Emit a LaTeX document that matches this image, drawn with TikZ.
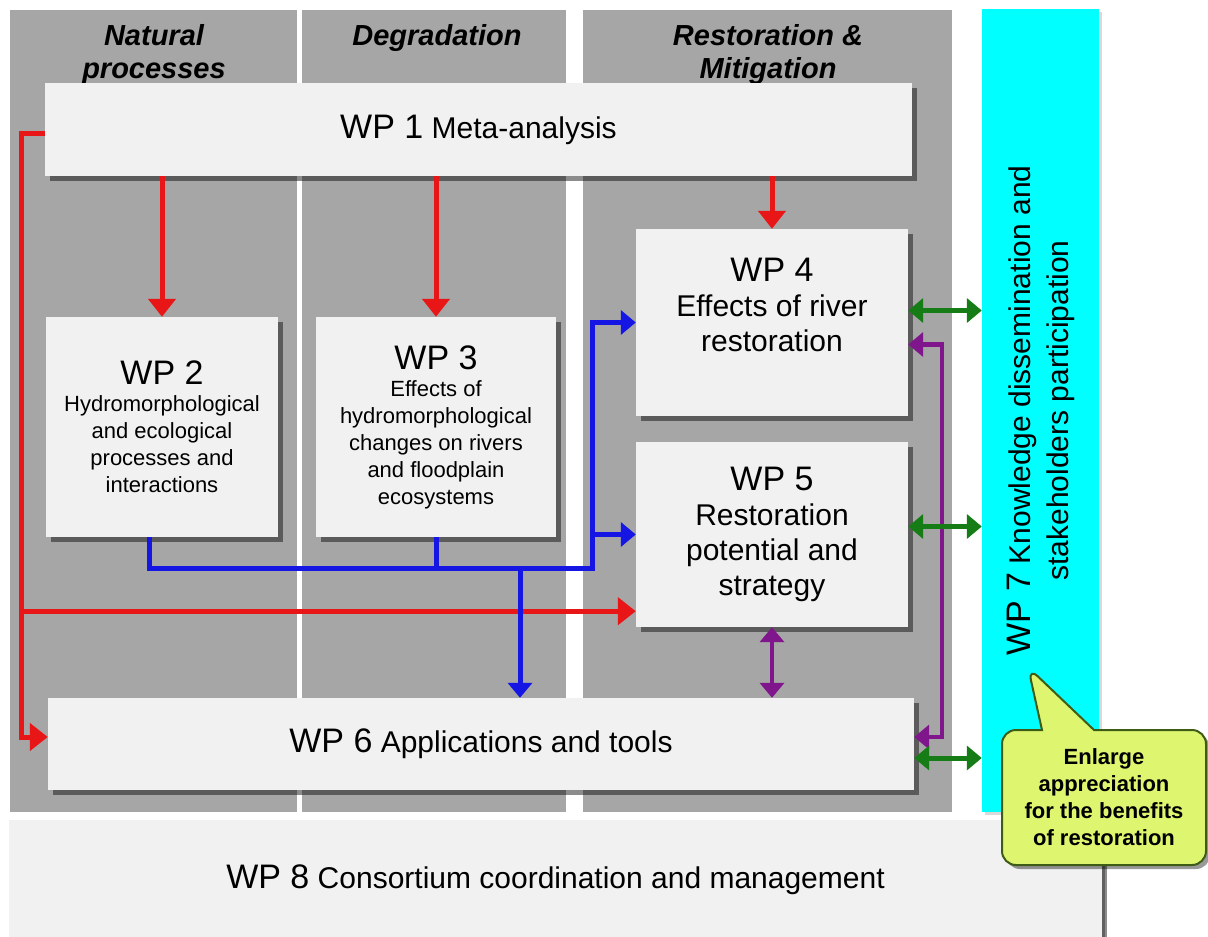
\documentclass[tikz,border=0pt]{standalone}
\usepackage{fontspec}
\setmainfont{Liberation Sans}
\usepackage{tikz}
\usetikzlibrary{arrows.meta,calc,shadows,shapes.callouts}

\definecolor{colgray}{RGB}{166,166,166}
\definecolor{boxfill}{RGB}{241,241,241}
\definecolor{wpred}{RGB}{232,22,22}
\definecolor{wpblue}{RGB}{22,22,228}
\definecolor{wppurple}{RGB}{128,22,140}
\definecolor{wpgreen}{RGB}{22,125,22}
\definecolor{wpcyan}{RGB}{0,255,255}
\definecolor{notefill}{RGB}{222,245,112}
\definecolor{noteborder}{RGB}{62,92,22}

\newcommand{\wptitle}[1]{{\fontsize{34}{38}\selectfont WP #1}}

\begin{document}
\begin{tikzpicture}[x=1pt,y=-1pt,
    wpbox/.style={fill=boxfill,inner sep=0pt,align=center,
      font=\fontsize{30}{35}\selectfont,
      drop shadow={shadow xshift=5pt,shadow yshift=-5pt,fill=black,opacity=.45}},
    smalltext/.style={font=\fontsize{22}{27}\selectfont},
    header/.style={anchor=north,inner sep=0pt,align=center,
      font=\fontsize{29}{33}\selectfont\bfseries\itshape},
    redarr/.style={draw=wpred,line width=5pt,-{Triangle[length=18pt,width=27pt]}},
    bluearr/.style={draw=wpblue,line width=5pt,-{Triangle[length=15pt,width=24pt]}},
    blueline/.style={draw=wpblue,line width=5pt},
    purparr/.style={draw=wppurple,line width=4.5pt,
      {Triangle[length=15pt,width=24pt]}-{Triangle[length=15pt,width=24pt]}},
    greenarr/.style={draw=wpgreen,line width=5pt,
      {Triangle[length=15pt,width=24pt]}-{Triangle[length=15pt,width=24pt]}},
    note/.style={rectangle callout,fill=notefill,draw=noteborder,line width=2pt,
      rounded corners=14pt,callout pointer width=52pt,align=center,inner sep=0pt,
      font=\fontsize{22}{27}\selectfont\bfseries,
      drop shadow={shadow xshift=4pt,shadow yshift=-4pt,fill=black,opacity=.4}}]

    \useasboundingbox[fill=white] (0,0) rectangle (1208,937);

    % columns
    \fill[colgray] (10,10) rectangle (297,812);
    \fill[colgray] (302,10) rectangle (566,812);
    \fill[colgray] (583,10) rectangle (952,812);

    \node[header] (hnat) at (154,24) {Natural\\processes};
    \node[header] (hdeg) at (437,24) {Degradation};
    \node[header] (hres) at (768,24) {Restoration \&\\Mitigation};

    % WP 7 (rotated, so its north is the left side)
    \node[rotate=90,fill=wpcyan,inner sep=0pt,align=center,
      minimum width=803pt,minimum height=117pt,font=\fontsize{30}{38}\selectfont,
      drop shadow={shadow xshift=3pt,shadow yshift=-3pt,fill=black,opacity=.15}]
      (wp7) at (1040.5,410.5) {\wptitle{7} Knowledge dissemination and\\stakeholders participation};

    % work packages
    \node[wpbox,minimum width=867pt,minimum height=93pt] (wp1) at (478.5,129.5)
      {\wptitle{1} Meta-analysis};
    \node[wpbox,smalltext,minimum width=232pt,minimum height=220pt] (wp2) at (162,427)
      {\wptitle{2}\\Hydromorphological\\and ecological\\processes and\\interactions};
    \node[wpbox,smalltext,minimum width=240pt,minimum height=220pt] (wp3) at (436,427)
      {\wptitle{3}\\Effects of\\hydromorphological\\changes on rivers\\and floodplain\\ecosystems};
    \node[wpbox,minimum width=272pt,minimum height=187pt] (wp4) at (772,322.5)
      {\wptitle{4}\\Effects of river\\restoration\\\mbox{}};
    \node[wpbox,minimum width=272pt,minimum height=185pt] (wp5) at (772,534.5)
      {\wptitle{5}\\Restoration\\potential and\\strategy};
    \node[wpbox,minimum width=866pt,minimum height=92pt] (wp6) at (481,744)
      {\wptitle{6} Applications and tools};
    \node[wpbox,minimum width=1093pt,minimum height=120pt,
      drop shadow={shadow xshift=3pt,shadow yshift=-3pt,fill=black,opacity=.3}]
      (wp8) at (555.5,880) {\wptitle{8} Consortium coordination and management};

    % red
    \coordinate (redrail) at (21,0);
    \coordinate (red1) at ($(wp1.west)+(0,4)$);
    \coordinate (red5) at ($(wp5.south west)+(0,-16)$);
    \coordinate (red6) at ($(wp6.west)+(0,-7)$);
    \foreach \n in {2,3,4}
      \draw[redarr] (wp1.south -| wp\n.north) -- (wp\n.north);
    \draw[redarr] (red1) -| (red6 -| redrail) -- (red6);
    \draw[redarr] (red5 -| redrail) -- (red5);

    % blue
    \coordinate (bus) at (592,568);
    \coordinate (busdrop) at (520,568);
    \draw[bluearr] ($(wp2.south)+(-13,0)$) |- (bus) |- (wp4.west);
    \draw[bluearr] (bus |- wp5.west) -- (wp5.west);
    \draw[blueline] (wp3.south) -- (wp3.south |- bus);
    \draw[bluearr] (busdrop) -- (busdrop |- wp6.north);

    % purple
    \draw[purparr] (wp5.south) -- (wp5.south |- wp6.north);
    \draw[purparr] ($(wp4.east)+(0,22)$) -| ($(wp6.east)+(28,-7)$) -- ($(wp6.east)+(0,-7)$);

    % green
    \coordinate (g4) at ($(wp4.east)+(0,-12)$);
    \coordinate (g5) at ($(wp5.east)+(0,-8)$);
    \coordinate (g6) at ($(wp6.east)+(0,14)$);
    \foreach \g in {g4,g5,g6}
      \draw[greenarr] (\g) -- (\g -| wp7.north);

    % callout
    \coordinate (tip) at (1028,667);
    \node[note,minimum width=204pt,minimum height=135pt,callout absolute pointer={(tip)}]
      (benefit) at (1104,797.5) {Enlarge\\appreciation\\for the benefits\\of restoration};

\end{tikzpicture}
\end{document}
